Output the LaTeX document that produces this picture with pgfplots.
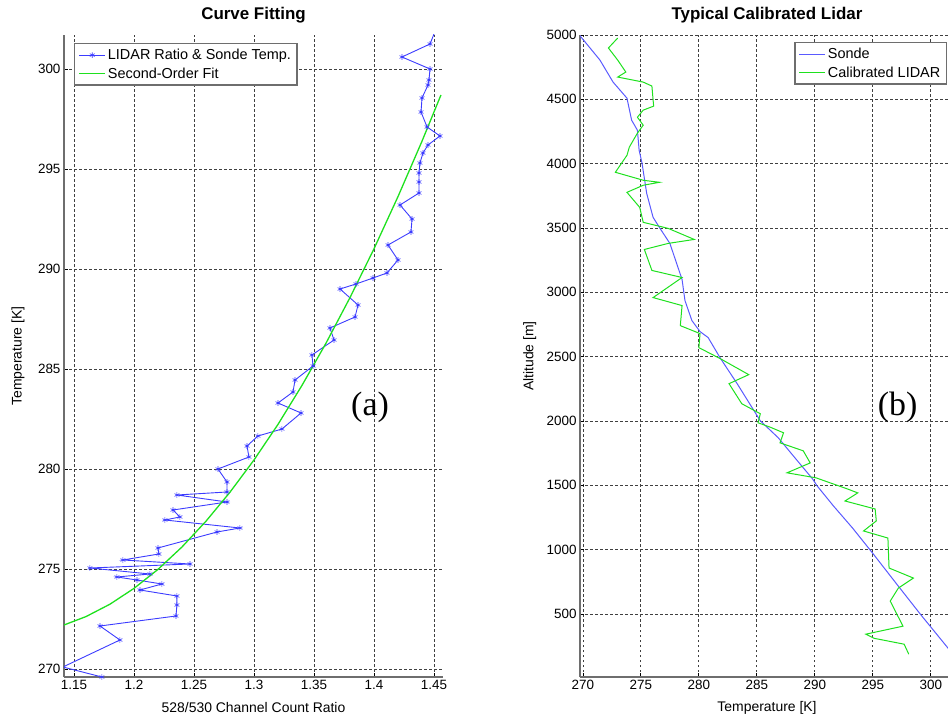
\documentclass[border=0pt]{standalone}
\usepackage{fontspec}
\setmainfont{Liberation Sans}
\newfontfamily\serifmark{Liberation Serif}
\usepackage{pgfplots}
\pgfplotsset{compat=1.18}
\definecolor{mblue}{RGB}{60,60,255}
\definecolor{sblue}{RGB}{90,90,255}
\definecolor{mgreen}{RGB}{30,225,30}
\definecolor{axgray}{RGB}{110,110,110}
\pgfplotsset{
  mstyle/.style={
    scale only axis, height=642bp,
    axis lines*=left,
    axis line style={-, axgray, line width=1.5bp},
    tick align=inside, major tick length=4bp,
    tick style={black, line width=0.8bp},
    grid=major,
    grid style={black!75, line width=0.8bp, dash pattern=on 2.5bp off 2.5bp},
    /pgf/number format/assume math mode=true,
    /pgf/number format/1000 sep={},
    scaled ticks=false,
    tick label style={font=\fontsize{13.5}{15}\selectfont},
    title style={font=\bfseries\fontsize{17}{19}\selectfont, yshift=2bp},
    legend style={draw=axgray, line width=1.2bp, fill=white,
      font=\fontsize{14.5}{17}\selectfont, inner xsep=4bp, inner ysep=3.5bp,
      row sep=2.5bp},
    legend cell align=left,
    legend image code/.code={\draw[mark repeat=2,mark phase=2,#1] plot coordinates {(0bp,0bp) (13bp,0bp) (26bp,0bp)};},
    every axis x label/.style={at={(axis description cs:0.5,-0.048)}, anchor=center, font=\fontsize{14}{16}\selectfont},
  }
}
\begin{document}
\begin{tikzpicture}
\begin{axis}[mstyle, at={(64bp,42bp)}, anchor=south west, width=379bp,
  title={Curve Fitting},
  xmin=1.1417, xmax=1.4575, ymin=269.6, ymax=301.7,
  xtick={1.15,1.2,1.25,1.3,1.35,1.4,1.45},
  xticklabels={1.15,1.2,1.25,1.3,1.35,1.4,1.45},
  ytick={270,275,280,285,290,295,300},
  xlabel={528/530 Channel Count Ratio},
  ylabel={Temperature [K]},
  every axis y label/.style={at={(axis description cs:-0.121,0.5)}, rotate=90, anchor=center, font=\fontsize{14}{16}\selectfont},
  legend style={at={(axis description cs:0.0264,0.9875)}, anchor=north west},
]
\addplot[mblue, line width=0.9bp, mark=asterisk, mark size=2.8bp, mark options={line width=0.6bp}] coordinates {
(1.1733,269.6) (1.1408,270.1) (1.1883,271.45) (1.1717,272.15) (1.2350,272.65)
(1.2358,273.2) (1.2358,273.65) (1.2050,273.95) (1.2233,274.25) (1.2025,274.45)
(1.1858,274.6) (1.2133,274.75) (1.1633,275.05) (1.2467,275.25) (1.1908,275.45)
(1.2208,275.75) (1.2200,276.05) (1.2692,276.85) (1.2883,277.05) (1.2258,277.45)
(1.2383,277.6) (1.2325,277.95) (1.2775,278.35) (1.2358,278.7) (1.2775,278.85)
(1.2775,279.35) (1.2700,280.0) (1.2958,280.6) (1.2942,281.15) (1.3033,281.65)
(1.3233,282.0) (1.3392,282.8) (1.3200,283.3) (1.3325,283.85) (1.3342,284.45)
(1.3492,285.15) (1.3483,285.7) (1.3667,286.45) (1.3633,287.05) (1.3842,287.6)
(1.3867,288.2) (1.3717,289.0) (1.3850,289.25) (1.3992,289.55) (1.4108,289.8)
(1.4200,290.45) (1.4117,291.2) (1.4308,291.85) (1.4317,292.5) (1.4217,293.2)
(1.4375,293.8) (1.4375,294.35) (1.4375,294.8) (1.4383,295.3) (1.4408,295.8)
(1.4450,296.2) (1.4550,296.65) (1.4442,297.1) (1.4392,297.85) (1.4400,298.55)
(1.4450,299.2) (1.4458,299.45) (1.4467,300.0) (1.4233,300.6) (1.4467,301.25)
(1.4500,301.75)
};
\addlegendentry{LIDAR Ratio \& Sonde Temp.\hspace{20bp}}
\addplot[mgreen, line width=1.3bp] coordinates {
(1.1417,272.20) (1.16,272.62) (1.18,273.24) (1.20,274.03) (1.22,274.98)
(1.24,276.10) (1.26,277.39) (1.28,278.84) (1.30,280.45) (1.32,282.23)
(1.34,284.18) (1.36,286.29) (1.38,288.57) (1.40,291.01) (1.42,293.62)
(1.44,296.39) (1.4558,298.70)
};
\addlegendentry{Second-Order Fit}
\node[font=\serifmark\fontsize{34}{36}\selectfont] at (axis cs:1.3967,283.1) {(a)};
\end{axis}
\begin{axis}[mstyle, at={(580bp,42bp)}, anchor=south west, width=374bp,
  title={Typical Calibrated Lidar},
  xmin=269.75, xmax=302, ymin=10, ymax=5000,
  xtick={270,275,280,285,290,295,300},
  ytick={500,1000,1500,2000,2500,3000,3500,4000,4500,5000},
  xlabel={Temperature [K]},
  ylabel={Altitude [m]},
  every axis y label/.style={at={(axis description cs:-0.134,0.5)}, rotate=90, anchor=center, font=\fontsize{14}{16}\selectfont},
  legend style={at={(axis description cs:0.981,0.989)}, anchor=north east},
]
\addplot[sblue, line width=1bp] coordinates {
(269.74,4995) (271.47,4805) (272.6,4634) (273.8,4509) (274.2,4338) (274.7,4260)
(274.85,4104) (275.1,4003) (275.5,3769) (276.05,3583) (276.65,3497) (277.5,3380)
(278.55,3100) (278.8,2936) (279.4,2780) (280.1,2695) (280.8,2648) (281.85,2488)
(283.3,2290) (285.3,2001) (286.85,1869) (288.5,1690) (289.8,1550) (290.2,1495)
(291.6,1340) (293.25,1168) (294.98,973) (297.2,716) (299.1,498) (301.0,288)
(303.6,0)
};
\addlegendentry{Sonde}
\addplot[mgreen, line width=1bp] coordinates {
(273.0,4976) (272.2,4899) (273.0,4805) (273.7,4712) (273.0,4673) (275.2,4634)
(275.95,4603) (276.1,4447) (275.2,4416) (274.7,4361) (275.2,4299) (274.7,4237)
(274.0,4128) (273.8,4065) (272.8,3933) (275.2,3871) (276.6,3855) (275.2,3832)
(273.8,3777) (274.9,3660) (275.2,3544) (277.35,3497) (279.6,3411) (277.35,3380)
(275.3,3333) (275.95,3170) (278.55,3115) (276.05,2959) (278.55,2897) (278.4,2741)
(280.1,2679) (280.0,2570) (281.85,2484) (284.3,2360) (282.6,2290) (283.7,2134)
(285.3,2056) (285.1,1986) (286.2,1950) (287.3,1908) (287.0,1830) (289.0,1768)
(289.6,1674) (287.6,1597) (290.1,1558) (292.8,1472) (293.7,1441) (292.6,1378)
(295.2,1316) (295.3,1223) (294.2,1145) (296.3,1090) (296.4,857) (298.5,779)
(297.2,701) (296.5,600) (297.6,405) (294.4,343) (295.1,311) (297.7,265)
(298.1,187)
};
\addlegendentry{Calibrated LIDAR\hspace{6bp}}
\node[font=\serifmark\fontsize{34}{36}\selectfont] at (axis cs:297.14,2103) {(b)};
\end{axis}
\pgfresetboundingbox
\path[use as bounding box] (0bp,0bp) rectangle (948bp,719bp);
\end{tikzpicture}
\end{document}
